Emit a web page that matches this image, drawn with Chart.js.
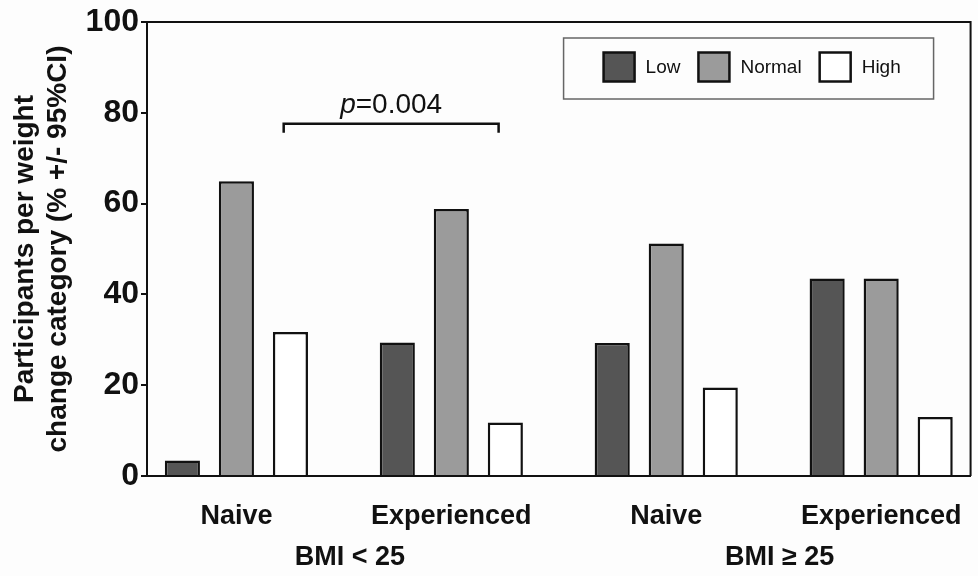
<!DOCTYPE html>
<html lang="en">
<head>
<meta charset="UTF-8">
<title>Weight change category by BMI</title>
<script src="https://cdn.jsdelivr.net/npm/chart.js"></script>
<style>
  html, body { margin: 0; padding: 0; background: #fdfdfd; }
  #wrap { width: 978px; height: 576px; position: relative; }
</style>
</head>
<body>
<div id="wrap"><canvas id="weightChart"></canvas></div>
<script>
// data
const categories = ['Naive', 'Experienced', 'Naive', 'Experienced'];
const lowValues = [3.4, 29.4, 29.3, 43.5];
const normalValues = [64.9, 58.8, 51.2, 43.5];
const highValues = [31.7, 11.8, 19.5, 13.0];
const yTicks = [0, 20, 40, 60, 80, 100];
const groupLabels = ['BMI < 25', 'BMI \u2265 25'];
const groupMembers = [[0, 1], [2, 3]];
const pBracket = [0.22, 1.22, 77.6]; // from, to, height (data units)
const pText = ['p', '=0.004'];

const FONT = "'Liberation Sans', Arial, Helvetica, sans-serif";
const INK = '#111111';
const X_PAD = 0.416; // empty space left/right of outer groups, in category units

function toPoints(values) {
    return values.map((v, i) => ({ x: i, y: v }));
}

const barStyle = {
    borderColor: INK,
    borderWidth: 2.5,
    categoryPercentage: 0.754,
    barPercentage: 0.65
};

// top/right frame, legend box, p-value bracket and BMI group labels
const figureExtras = {
    id: 'figureExtras',
    afterDraw(chart) {
        const ctx = chart.ctx;
        const area = chart.chartArea;
        const xs = chart.scales.x;
        const ys = chart.scales.y;
        ctx.save();

        // frame
        ctx.strokeStyle = INK;
        ctx.lineWidth = 2;
        ctx.beginPath();
        ctx.moveTo(area.left, area.top);
        ctx.lineTo(area.right, area.top);
        ctx.lineTo(area.right, area.bottom);
        ctx.stroke();

        // legend
        const boxL = area.right - 407, boxT = area.top + 16;
        ctx.strokeStyle = '#666666';
        ctx.lineWidth = 1.5;
        ctx.strokeRect(boxL, boxT, 370, 61);
        ctx.font = '19px ' + FONT;
        ctx.textBaseline = 'middle';
        ctx.textAlign = 'left';
        let lx = boxL + 40;
        const cy = area.top + 45;
        chart.data.datasets.forEach(ds => {
            ctx.fillStyle = ds.backgroundColor;
            ctx.fillRect(lx, cy - 14.5, 31, 29);
            ctx.strokeStyle = INK;
            ctx.lineWidth = 2.5;
            ctx.strokeRect(lx, cy - 14.5, 31, 29);
            ctx.fillStyle = INK;
            ctx.fillText(ds.label, lx + 42, cy + 1);
            lx += 42 + ctx.measureText(ds.label).width + 18;
        });

        // p-value bracket
        const bx0 = xs.getPixelForValue(pBracket[0]);
        const bx1 = xs.getPixelForValue(pBracket[1]);
        const by = ys.getPixelForValue(pBracket[2]);
        ctx.strokeStyle = INK;
        ctx.lineWidth = 2.5;
        ctx.beginPath();
        ctx.moveTo(bx0, by + 9);
        ctx.lineTo(bx0, by);
        ctx.lineTo(bx1, by);
        ctx.lineTo(bx1, by + 9);
        ctx.stroke();
        ctx.textBaseline = 'alphabetic';
        ctx.font = 'italic 28px ' + FONT;
        const w0 = ctx.measureText(pText[0]).width;
        ctx.font = '28px ' + FONT;
        const w1 = ctx.measureText(pText[1]).width;
        let tx = (bx0 + bx1) / 2 - (w0 + w1) / 2;
        ctx.font = 'italic 28px ' + FONT;
        ctx.fillText(pText[0], tx, by - 11);
        ctx.font = '28px ' + FONT;
        ctx.fillText(pText[1], tx + w0, by - 11);

        // group labels under the category labels
        ctx.font = 'bold 27px ' + FONT;
        ctx.textAlign = 'center';
        groupLabels.forEach((label, g) => {
            const px = groupMembers[g].map(i => xs.getPixelForValue(i));
            const gx = px.reduce((a, b) => a + b, 0) / px.length + 6;
            ctx.fillText(label, gx, area.bottom + 89);
        });
        ctx.restore();
    }
};

const ctx = document.getElementById('weightChart').getContext('2d');
const weightChart = new Chart(ctx, {
    type: 'bar',
    data: {
        datasets: [
            Object.assign({ label: 'Low', data: toPoints(lowValues), backgroundColor: '#555555' }, barStyle),
            Object.assign({ label: 'Normal', data: toPoints(normalValues), backgroundColor: '#9b9b9b' }, barStyle),
            Object.assign({ label: 'High', data: toPoints(highValues), backgroundColor: '#ffffff' }, barStyle)
        ]
    },
    options: {
        responsive: true,
        maintainAspectRatio: false,
        devicePixelRatio: 1,
        animation: false,
        layout: { padding: { top: 22, right: 5, left: 0, bottom: 0 } },
        scales: {
            x: {
                type: 'linear',
                offset: false,
                min: -X_PAD,
                max: categories.length - 1 + X_PAD,
                afterBuildTicks: scale => { scale.ticks = categories.map((c, i) => ({ value: i })); },
                afterFit: scale => { scale.height = 100; },
                ticks: {
                    callback: v => categories[v],
                    font: { family: FONT, size: 27, weight: 'bold' },
                    color: INK,
                    padding: 16,
                    maxRotation: 0,
                    autoSkip: false
                },
                grid: { display: false, offset: false },
                border: { display: true, color: INK, width: 2 }
            },
            y: {
                min: 0,
                max: 100,
                afterBuildTicks: scale => { scale.ticks = yTicks.map(v => ({ value: v })); },
                afterFit: scale => { scale.width = 147; },
                ticks: {
                    font: { family: FONT, size: 32, weight: 'bold' },
                    color: INK,
                    padding: 2
                },
                grid: {
                    drawOnChartArea: false,
                    drawTicks: true,
                    tickLength: 6,
                    lineWidth: 2,
                    color: INK
                },
                border: { display: true, color: INK, width: 2 },
                title: {
                    display: true,
                    text: ['Participants per weight', 'change category (% +/- 95%CI)'],
                    font: { family: FONT, size: 28, weight: 'bold' },
                    color: INK,
                    padding: { top: 8, bottom: 0 }
                }
            }
        },
        plugins: {
            legend: { display: false },
            tooltip: { enabled: false }
        }
    },
    plugins: [figureExtras]
});
</script>
</body>
</html>
